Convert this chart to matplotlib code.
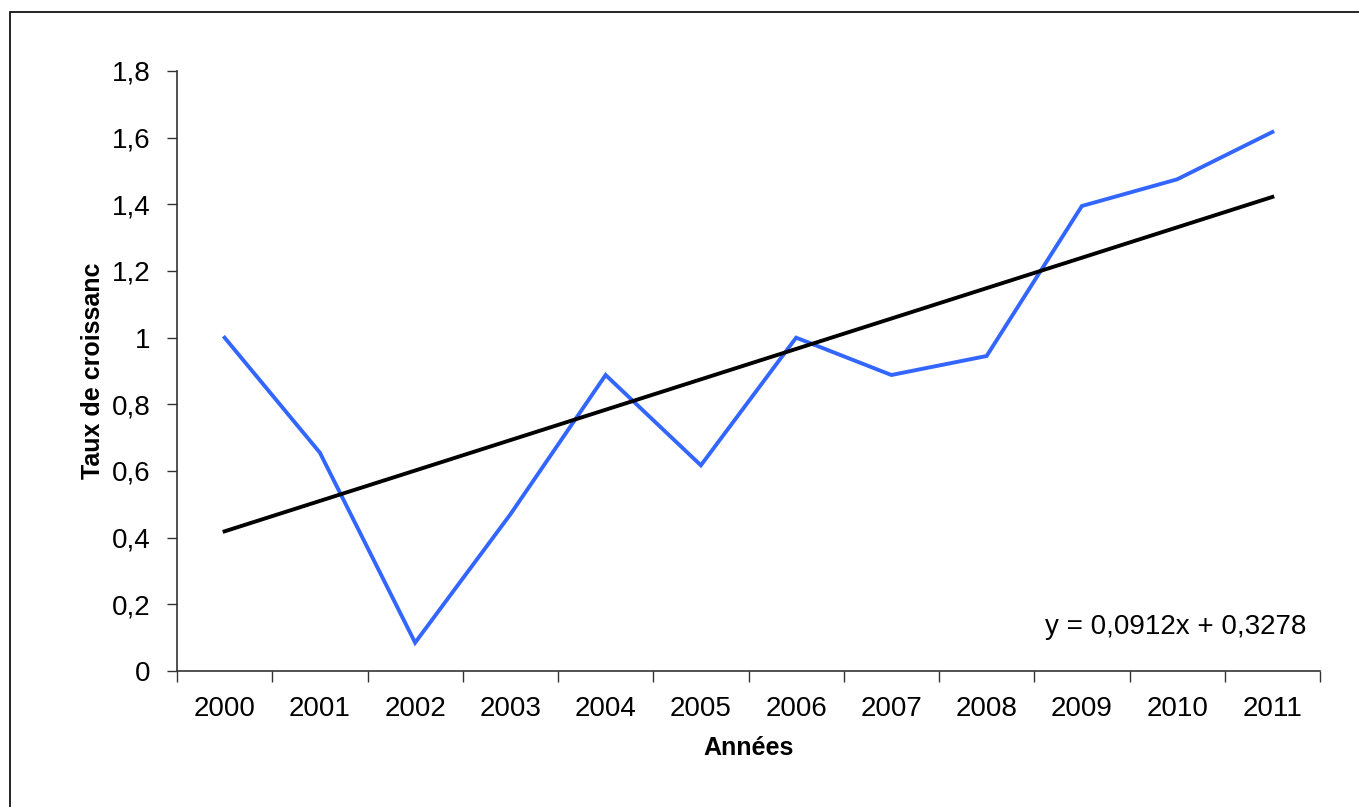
import numpy as np
import matplotlib
matplotlib.use("Agg")
import matplotlib.pyplot as plt
from matplotlib.patches import Rectangle

# data
years = ['2000', '2001', '2002', '2003', '2004', '2005',
         '2006', '2007', '2008', '2009', '2010', '2011']
taux = [1.0, 0.655, 0.085, 0.47, 0.888, 0.617, 1.0, 0.888, 0.945, 1.395, 1.475, 1.617]
yticks = [0, 0.2, 0.4, 0.6, 0.8, 1.0, 1.2, 1.4, 1.6, 1.8]
ytick_labels = ['0', '0,2', '0,4', '0,6', '0,8', '1', '1,2', '1,4', '1,6', '1,8']
slope, intercept = 0.0912, 0.3278
equation = 'y = 0,0912x + 0,3278'

plt.rcParams['font.family'] = ['Liberation Sans', 'DejaVu Sans']

fig = plt.figure(figsize=(13.59, 8.07), dpi=100)
# outer chart border (only left and top visible in the reference)
fig.patches.append(Rectangle((10 / 1359, -0.1), 1.2, (807 - 12) / 807 + 0.1,
                             transform=fig.transFigure, fill=False,
                             edgecolor='black', linewidth=1.2))

ax = fig.add_axes([177 / 1359, 136 / 807, (1320 - 177) / 1359, 600 / 807])

x = np.arange(len(years))
trend_x = x + 1
ax.plot(x, taux, color='#3366FF', linewidth=2.8, solid_joinstyle='miter')
ax.plot(x, slope * trend_x + intercept, color='black', linewidth=2.8)

ax.set_xlim(-0.5, len(years) - 0.5)
ax.set_ylim(0, 1.8)

ax.set_yticks(yticks)
ax.set_yticklabels(ytick_labels, fontsize=20)
ax.set_xticks(np.arange(-0.5, len(years), 1.0))
ax.set_xticklabels([])
ax.set_xticks(x, minor=True)
ax.set_xticklabels(years, minor=True, fontsize=20)
ax.tick_params(axis='x', which='major', length=8, width=1, color='#333333')
ax.tick_params(axis='x', which='minor', length=0, pad=18)
ax.tick_params(axis='y', length=7, width=1, color='#333333', pad=12)

for s in ['top', 'right']:
    ax.spines[s].set_visible(False)
for s in ['left', 'bottom']:
    ax.spines[s].set_color('#333333')
    ax.spines[s].set_linewidth(1.2)

ax.set_xlabel('Années', fontsize=18, fontweight='bold', labelpad=10)
ax.set_ylabel('Taux de croissanc', fontsize=18, fontweight='bold', labelpad=5)

ax.text(0.988, 0.074, equation, transform=ax.transAxes, fontsize=20,
        ha='right', va='center')

fig.savefig('out.png', dpi=100)
